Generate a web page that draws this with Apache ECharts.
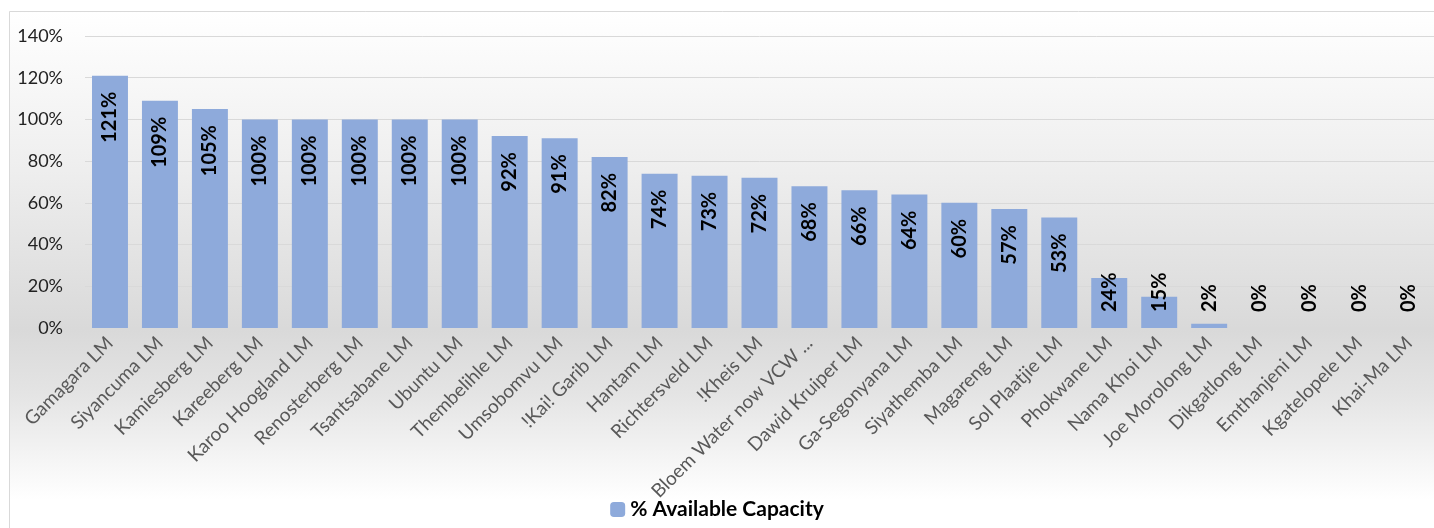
<!DOCTYPE html>
<html>
<head>
<meta charset="utf-8">
<script src="https://cdn.jsdelivr.net/npm/echarts@6/dist/echarts.min.js"></script>
<style>
  html, body { margin: 0; padding: 0; background: #fff; }
  #chart { width: 1434px; height: 528px; }
</style>
</head>
<body>
<div id="chart"></div>
<script>
// municipalities, sorted as in the chart
var municipalities = ['Gamagara LM', 'Siyancuma LM', 'Kamiesberg LM', 'Kareeberg LM', 'Karoo Hoogland LM',
  'Renosterberg LM', 'Tsantsabane LM', 'Ubuntu LM', 'Thembelihle LM', 'Umsobomvu LM', '!Kai! Garib LM',
  'Hantam LM', 'Richtersveld LM', '!Kheis LM', 'Bloem Water now VCW ...', 'Dawid Kruiper LM',
  'Ga-Segonyana LM', 'Siyathemba LM', 'Magareng LM', 'Sol Plaatjie LM', 'Phokwane LM', 'Nama Khoi LM',
  'Joe Morolong LM', 'Dikgatlong LM', 'Emthanjeni LM', 'Kgatelopele LM', 'Khai-Ma LM'];
// % available capacity
var capacity = [121, 109, 105, 100, 100, 100, 100, 100, 92, 91, 82, 74, 73, 72, 68, 66, 64, 60, 57, 53, 24, 15, 2, 0, 0, 0, 0];
var yTicks = { min: 0, max: 140, step: 20 };

var labelFont = 'Lato, "Open Sans", sans-serif';

// long bars get the label inside the top, short ones sit up from the base
var barData = [];
for (var i = 0; i < capacity.length; i++) {
  var item = { value: capacity[i] };
  if (capacity[i] < 40) {
    item.label = { position: 'insideBottom', align: 'left', distance: 16 };
  }
  barData.push(item);
}

var myChart = echarts.init(document.getElementById('chart'));

var option = {
  animation: false,
  backgroundColor: '#ffffff',
  graphic: [{
    type: 'rect',
    z: -10,
    silent: true,
    shape: { x: 9.5, y: 11.5, width: 1440, height: 530 },
    style: {
      stroke: '#d9d9d9',
      lineWidth: 1,
      fill: new echarts.graphic.LinearGradient(0, 0, 0, 1, [
        { offset: 0, color: '#ffffff' },
        { offset: 0.3, color: '#eeeeee' },
        { offset: 0.6, color: '#d9d9d9' },
        { offset: 0.72, color: '#e4e4e4' },
        { offset: 0.92, color: '#ffffff' },
        { offset: 1, color: '#ffffff' }
      ])
    }
  }],
  grid: { left: 85, right: -3, top: 36, bottom: 200 },
  legend: {
    bottom: 3,
    left: 'center',
    itemWidth: 15,
    itemHeight: 15,
    itemGap: 10,
    textStyle: { fontFamily: labelFont, fontSize: 21, fontWeight: 'bold', color: '#000' },
    data: ['% Available Capacity']
  },
  xAxis: {
    type: 'category',
    data: municipalities,
    axisLine: { show: true, lineStyle: { color: '#d9d9d9' } },
    axisTick: { show: false },
    axisLabel: {
      rotate: 45,
      interval: 0,
      margin: 12,
      color: '#595959',
      fontFamily: labelFont,
      fontSize: 19
    }
  },
  yAxis: {
    type: 'value',
    min: yTicks.min,
    max: yTicks.max,
    interval: yTicks.step,
    axisLine: { show: false },
    axisTick: { show: false },
    splitLine: { lineStyle: { color: '#d9d9d9', width: 1 } },
    axisLabel: {
      formatter: '{value}%',
      margin: 22,
      color: '#222',
      fontFamily: labelFont,
      fontSize: 18
    }
  },
  series: [{
    name: '% Available Capacity',
    type: 'bar',
    data: barData,
    barCategoryGap: '28%',
    itemStyle: { color: '#8eaadb' },
    label: {
      show: true,
      position: 'insideTop',
      rotate: 90,
      align: 'right',
      verticalAlign: 'middle',
      distance: 16,
      formatter: '{c}%',
      color: '#000',
      fontFamily: labelFont,
      fontSize: 20,
      fontWeight: 'bold'
    }
  }]
};

myChart.setOption(option);
</script>
</body>
</html>
